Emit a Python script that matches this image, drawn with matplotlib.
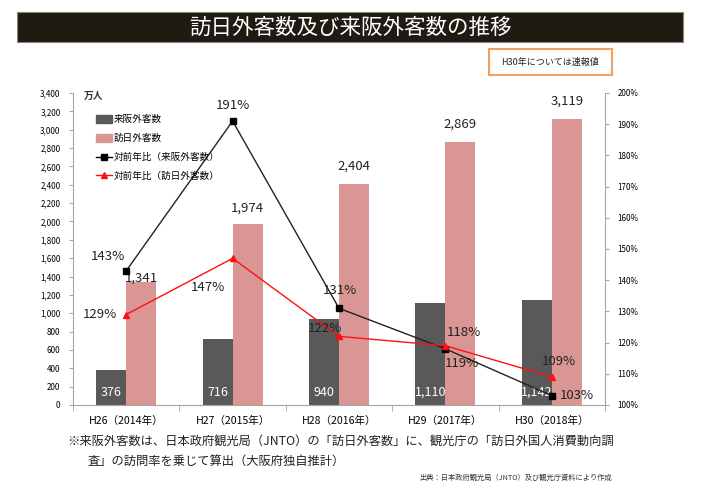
import matplotlib
matplotlib.use("Agg")
import matplotlib.pyplot as plt
from matplotlib.patches import Rectangle
from matplotlib.lines import Line2D
from matplotlib.ticker import FuncFormatter, FixedLocator
import matplotlib.transforms as mtransforms
import numpy as np

plt.rcParams['font.family'] = ['Noto Sans CJK JP', 'DejaVu Sans']

categories = ["H26（2014年）", "H27（2015年）", "H28（2016年）", "H29（2017年）", "H30（2018年）"]
osaka_visitors = [376, 716, 940, 1110, 1142]
japan_visitors = [1341, 1974, 2404, 2869, 3119]
osaka_yoy = [143, 191, 131, 118, 103]
japan_yoy = [129, 147, 122, 119, 109]
osaka_labels = ["376", "716", "940", "1,110", "1,142"]
japan_labels = ["1,341", "1,974", "2,404", "2,869", "3,119"]

W, H = 708, 492
fig = plt.figure(figsize=(W / 100, H / 100), dpi=100)

def fx(x):
    return x / W

def fy(y):
    return 1 - y / H

# Title bar
fig.patches.append(Rectangle((fx(17), fy(42)), fx(683) - fx(17), fy(12) - fy(42),
                             transform=fig.transFigure, facecolor="#1f1b12",
                             edgecolor="#8c8878", linewidth=0.8))
fig.text(fx(350), fy(27.5), "訪日外客数及び来阪外客数の推移", color="white",
         fontsize=15.5, ha="center", va="center")

# Note box
fig.patches.append(Rectangle((fx(489), fy(75)), fx(612) - fx(489), fy(49) - fy(75),
                             transform=fig.transFigure, facecolor="white",
                             edgecolor="#f0a060", linewidth=1.5))
fig.text(fx(550.5), fy(62), "H30年については速報値", fontsize=6.5, ha="center",
         va="center", color="#222222")

ax = fig.add_axes([fx(73), fy(405), fx(605) - fx(73), fy(93) - fy(405)])
ax2 = ax.twinx()

x = np.arange(len(categories))
w = 0.282
gray = "#595959"
pink = "#d99694"
ax.bar(x - w / 2, osaka_visitors, w, color=gray, zorder=2, label="来阪外客数")
ax.bar(x + w / 2, japan_visitors, w, color=pink, zorder=2, label="訪日外客数")

ax.set_xlim(-0.5, len(categories) - 0.5)
ax.set_ylim(0, 3400)
ax.set_yticks(np.arange(0, 3401, 200))
ax.yaxis.set_major_formatter(FuncFormatter(lambda v, p: f"{int(v):,}"))
ax.tick_params(axis="y", labelsize=5.8, length=3, color="#a6a6a6", pad=6)
ax.set_xticks(x)
ax.set_xticklabels(categories, fontsize=7.6)
ax.tick_params(axis="x", length=0, pad=8)
ax.xaxis.set_minor_locator(FixedLocator(np.arange(-0.5, len(categories), 1.0)))
ax.tick_params(axis="x", which="minor", length=4, color="#a6a6a6")
for s in ["top", "right"]:
    ax.spines[s].set_visible(False)
ax.spines["left"].set_color("#a6a6a6")
ax.spines["bottom"].set_color("#a6a6a6")

# bar labels
up = mtransforms.ScaledTranslation(0, 6 / 100, fig.dpi_scale_trans)
for i, (v, lab) in enumerate(zip(osaka_visitors, osaka_labels)):
    ax.text(i - w / 2, 0, lab, color="white", fontsize=9, ha="center", va="bottom",
            transform=ax.transData + up, zorder=5)
pink_off = [3, 11, 13, 13, 13]
for i, (v, lab) in enumerate(zip(japan_visitors, japan_labels)):
    ax.annotate(lab, (i + w / 2, v), xytext=(0, pink_off[i]), textcoords="offset points",
                ha="center", va="center", fontsize=9.5, color="#222222", zorder=5)

# lines
ax2.set_ylim(100, 200)
ax2.set_yticks(np.arange(100, 201, 10))
ax2.yaxis.set_major_formatter(FuncFormatter(lambda v, p: f"{int(v)}%"))
ax2.tick_params(axis="y", labelsize=5.8, length=3, color="#a6a6a6", pad=6)
for s in ["top", "left", "bottom"]:
    ax2.spines[s].set_visible(False)
ax2.spines["right"].set_color("#a6a6a6")

ax2.plot(x, osaka_yoy, color="#222222", lw=1.0, marker="s", ms=5,
         markerfacecolor="black", markeredgecolor="black", zorder=3)
ax2.plot(x, japan_yoy, color="#ff1010", lw=1.0, marker="^", ms=5,
         markerfacecolor="#ff1010", markeredgecolor="#ff1010", zorder=3)

osaka_off = [(-13.5, 10), (0, 11.5), (1, 13), (13, 11.5), (18, 0)]
japan_off = [(-19, 0), (-18, -21), (-10, 6), (12, -13), (5, 11)]
for i, v in enumerate(osaka_yoy):
    ax2.annotate(f"{v}%", (i, v), xytext=osaka_off[i], textcoords="offset points",
                 ha="center", va="center", fontsize=9.5, color="#222222")
for i, v in enumerate(japan_yoy):
    ax2.annotate(f"{v}%", (i, v), xytext=japan_off[i], textcoords="offset points",
                 ha="center", va="center", fontsize=9.5, color="#222222")

# unit label
fig.text(fx(84), fy(96), "万人", fontsize=7, fontweight="bold", ha="left", va="center",
         color="#333333")

# legend
handles = [
    Rectangle((0, 0), 1, 1, color=gray),
    Rectangle((0, 0), 1, 1, color=pink),
    Line2D([], [], color="black", lw=1.0, marker="s", ms=4),
    Line2D([], [], color="#ff1010", lw=1.0, marker="^", ms=4),
]
labels = ["来阪外客数", "訪日外客数", "対前年比（来阪外客数）", "対前年比（訪日外客数）"]
leg = fig.legend(handles, labels, loc="upper left",
                 bbox_to_anchor=(fx(91), fy(110)), frameon=False, fontsize=6.9,
                 handlelength=1.7, handleheight=1.0, handletextpad=0.2,
                 labelspacing=0.98, borderpad=0)

# footnotes
fig.text(fx(67), fy(441), "※来阪外客数は、日本政府観光局（JNTO）の「訪日外客数」に、観光庁の「訪日外国人消費動向調",
         fontsize=8.85, ha="left", va="center", color="#222222")
fig.text(fx(88), fy(461), "査」の訪問率を乗じて算出（大阪府独自推計）",
         fontsize=8.85, ha="left", va="center", color="#222222")
fig.text(fx(612), fy(478), "出典：日本政府観光局（JNTO）及び観光庁資料により作成",
         fontsize=5.2, ha="right", va="center", color="#333333")

fig.savefig("out.png", dpi=100)
